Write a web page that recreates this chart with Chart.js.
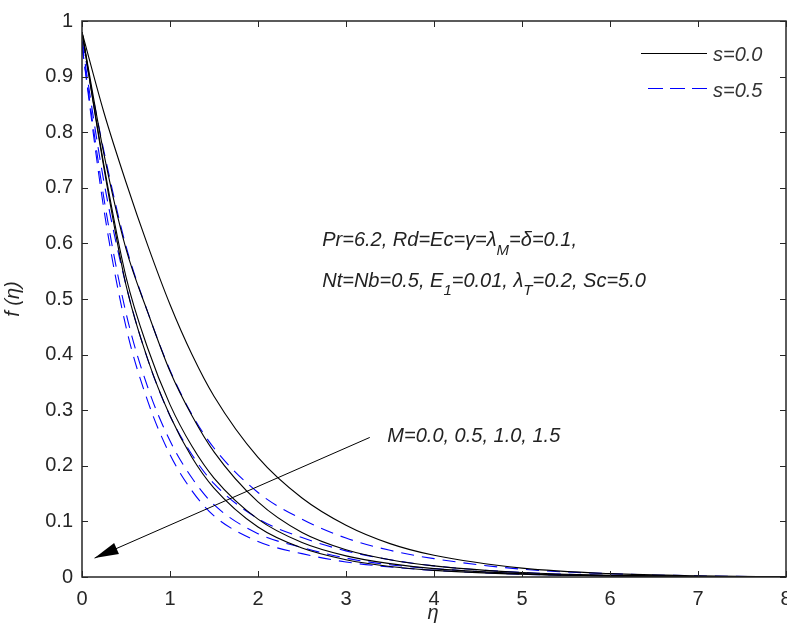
<!DOCTYPE html>
<html>
<head>
<meta charset="utf-8">
<script src="https://cdn.jsdelivr.net/npm/chart.js@4.4.1/dist/chart.umd.min.js"></script>
<style>
  html, body { margin: 0; padding: 0; background: #fff; }
</style>
</head>
<body>
<canvas id="chart" width="787" height="633"></canvas>
<script>
// eta grid shared by every curve
const eta = [0, 0.25, 0.5, 0.75, 1, 1.25, 1.5, 2, 2.5, 3, 3.5, 4, 5, 6, 7, 8];

// s = 0.0 (solid black), M = 0.0, 0.5, 1.0, 1.5
const s00M00 = [0.98, 0.835, 0.71, 0.595, 0.49, 0.40, 0.325, 0.215, 0.142, 0.093, 0.060, 0.039, 0.016, 0.006, 0.002, 0.0005];
const s00M05 = [0.98, 0.76, 0.59, 0.475, 0.37, 0.29, 0.225, 0.135, 0.080, 0.049, 0.031, 0.020, 0.008, 0.003, 0.001, 0.0003];
const s00M10 = [0.98, 0.74, 0.54, 0.41, 0.31, 0.235, 0.178, 0.104, 0.062, 0.038, 0.024, 0.015, 0.006, 0.002, 0.001, 0.0002];
const s00M15 = [0.98, 0.735, 0.525, 0.39, 0.29, 0.215, 0.160, 0.090, 0.052, 0.031, 0.019, 0.012, 0.005, 0.002, 0.001, 0.0002];

// s = 0.5 (dashed blue), M = 0.0, 0.5, 1.0, 1.5
const s05M00 = [0.965, 0.765, 0.595, 0.475, 0.372, 0.292, 0.232, 0.152, 0.104, 0.070, 0.048, 0.033, 0.014, 0.006, 0.002, 0.0005];
const s05M05 = [0.96, 0.71, 0.525, 0.39, 0.29, 0.22, 0.168, 0.105, 0.071, 0.047, 0.031, 0.020, 0.008, 0.003, 0.001, 0.0003];
const s05M10 = [0.955, 0.68, 0.475, 0.34, 0.245, 0.178, 0.130, 0.078, 0.053, 0.034, 0.022, 0.015, 0.006, 0.002, 0.001, 0.0002];
const s05M15 = [0.955, 0.66, 0.45, 0.315, 0.22, 0.155, 0.110, 0.064, 0.042, 0.027, 0.018, 0.012, 0.005, 0.002, 0.001, 0.0002];

const xTicks = [0, 1, 2, 3, 4, 5, 6, 7, 8];
const yTicks = [0, 0.1, 0.2, 0.3, 0.4, 0.5, 0.6, 0.7, 0.8, 0.9, 1];

const legendLabels = ['s=0.0', 's=0.5'];
const paramLine1 = [['Pr=6.2, Rd=Ec=\u03b3=\u03bb'], ['M', 1], ['=\u03b4=0.1,']];
const paramLine2 = [['Nt=Nb=0.5, E'], ['1', 1], ['=0.01, \u03bb'], ['T', 1], ['=0.2, Sc=5.0']];
const arrowText = 'M=0.0, 0.5, 1.0, 1.5';

const AXIS = '#262626';
const BLUE = '#0000ff';

function pts(ys) {
  return eta.map((e, i) => ({ x: e, y: ys[i] }));
}

function solid(ys) {
  return { data: pts(ys), borderColor: '#000', borderWidth: 1.1, pointRadius: 0, cubicInterpolationMode: 'monotone' };
}

function dashed(ys) {
  return { data: pts(ys), borderColor: BLUE, borderWidth: 1.1, borderDash: [13, 8], pointRadius: 0, cubicInterpolationMode: 'monotone' };
}

// draws text pieces, pieces flagged with 1 are subscripts
function drawRich(ctx, parts, x, y) {
  let cx = x;
  parts.forEach(p => {
    const sub = p[1] === 1;
    ctx.font = sub ? 'italic 15px "Liberation Sans"' : 'italic 20px "Liberation Sans"';
    ctx.fillText(p[0], cx, sub ? y + 10 : y);
    cx += ctx.measureText(p[0]).width;
  });
}

const decor = {
  id: 'decor',
  afterDraw(chart) {
    const { ctx, chartArea: a, scales: { x, y } } = chart;
    ctx.save();

    // box and inward ticks
    ctx.strokeStyle = AXIS;
    ctx.lineWidth = 1.5;
    ctx.strokeRect(a.left, a.top, a.right - a.left, a.bottom - a.top);
    ctx.beginPath();
    xTicks.forEach(v => {
      const px = Math.round(x.getPixelForValue(v)) + 0.5;
      ctx.moveTo(px, a.bottom); ctx.lineTo(px, a.bottom - 6);
      ctx.moveTo(px, a.top); ctx.lineTo(px, a.top + 6);
    });
    yTicks.forEach(v => {
      const py = Math.round(y.getPixelForValue(v)) + 0.5;
      ctx.moveTo(a.left, py); ctx.lineTo(a.left + 6, py);
      ctx.moveTo(a.right, py); ctx.lineTo(a.right - 6, py);
    });
    ctx.lineWidth = 1;
    ctx.stroke();

    // axis titles
    ctx.fillStyle = AXIS;
    ctx.textBaseline = 'middle';
    ctx.textAlign = 'center';
    ctx.font = 'italic 20px "Liberation Sans"';
    ctx.fillText('\u03b7', 433, 613);
    ctx.save();
    ctx.translate(13, (a.top + a.bottom) / 2);
    ctx.rotate(-Math.PI / 2);
    ctx.fillText('f (\u03b7)', 0, 0);
    ctx.restore();

    // legend
    ctx.textAlign = 'left';
    ctx.strokeStyle = '#000';
    ctx.lineWidth = 1.2;
    ctx.beginPath(); ctx.moveTo(641, 53.5); ctx.lineTo(707, 53.5); ctx.stroke();
    ctx.strokeStyle = BLUE;
    ctx.setLineDash([15, 7]);
    ctx.beginPath(); ctx.moveTo(648, 88.5); ctx.lineTo(708, 88.5); ctx.stroke();
    ctx.setLineDash([]);
    ctx.font = 'italic 20px "Liberation Sans"';
    ctx.fillStyle = '#333';
    ctx.fillText(legendLabels[0], 713, 55);
    ctx.fillText(legendLabels[1], 713, 91);

    // parameter note
    ctx.fillStyle = '#222';
    drawRich(ctx, paramLine1, x.getPixelForValue(2.73), y.getPixelForValue(0.605));
    drawRich(ctx, paramLine2, x.getPixelForValue(2.73), y.getPixelForValue(0.532));

    // arrow across the M curves
    const x0 = x.getPixelForValue(3.27), y0 = y.getPixelForValue(0.251);
    const x1 = x.getPixelForValue(0.143), y1 = y.getPixelForValue(0.034);
    ctx.strokeStyle = '#000';
    ctx.lineWidth = 1;
    ctx.beginPath(); ctx.moveTo(x0, y0); ctx.lineTo(x1, y1); ctx.stroke();
    const ang = Math.atan2(y1 - y0, x1 - x0);
    const L = 24, W = 6;
    const bx = x1 - L * Math.cos(ang), by = y1 - L * Math.sin(ang);
    ctx.fillStyle = '#000';
    ctx.beginPath();
    ctx.moveTo(x1, y1);
    ctx.lineTo(bx + W * Math.sin(ang), by - W * Math.cos(ang));
    ctx.lineTo(bx - W * Math.sin(ang), by + W * Math.cos(ang));
    ctx.closePath();
    ctx.fill();
    ctx.fillStyle = '#222';
    ctx.font = 'italic 20px "Liberation Sans"';
    ctx.fillText(arrowText, x.getPixelForValue(3.47), y.getPixelForValue(0.253));

    ctx.restore();
  }
};

new Chart(document.getElementById('chart'), {
  type: 'line',
  data: {
    datasets: [
      solid(s00M00), solid(s00M05), solid(s00M10), solid(s00M15),
      dashed(s05M00), dashed(s05M05), dashed(s05M10), dashed(s05M15)
    ]
  },
  options: {
    responsive: false,
    animation: false,
    devicePixelRatio: 1,
    layout: { padding: { top: 21, right: 1, left: 0, bottom: 0 } },
    plugins: { legend: { display: false }, tooltip: { enabled: false } },
    scales: {
      x: {
        type: 'linear', min: 0, max: 8,
        afterFit: s => { s.height = 56; s.paddingLeft = 0; s.paddingRight = 0; },
        afterBuildTicks: s => { s.ticks = xTicks.map(v => ({ value: v })); },
        grid: { display: false, drawTicks: false },
        border: { display: false },
        ticks: { padding: 10, color: AXIS, font: { family: 'Liberation Sans', size: 20 }, callback: v => String(v) }
      },
      y: {
        type: 'linear', min: 0, max: 1,
        afterFit: s => { s.width = 82; s.paddingTop = 0; s.paddingBottom = 0; },
        afterBuildTicks: s => { s.ticks = yTicks.map(v => ({ value: v })); },
        grid: { display: false, drawTicks: false },
        border: { display: false },
        ticks: { padding: 9, color: AXIS, font: { family: 'Liberation Sans', size: 20 }, callback: v => String(+v.toFixed(1)) }
      }
    }
  },
  plugins: [decor]
});
</script>
</body>
</html>
